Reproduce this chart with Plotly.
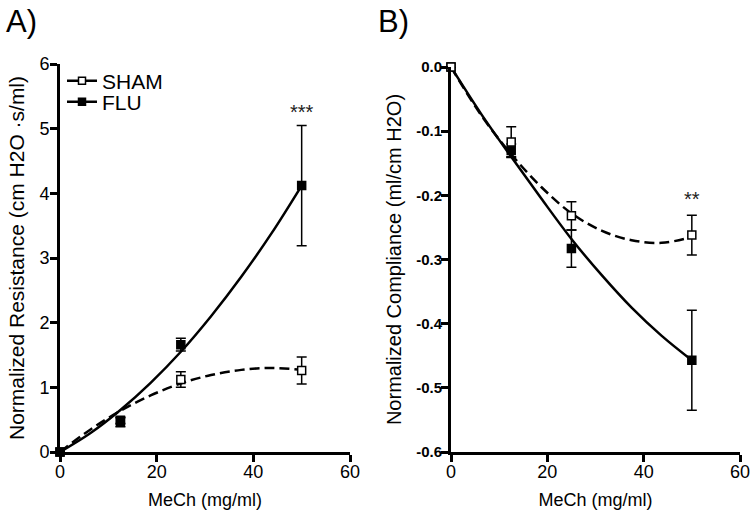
import plotly.graph_objects as go

FONT = "Arial, 'Liberation Sans', sans-serif"

# ---- data ----
dose = [0, 12.5, 25, 50]

# Panel A: normalized resistance
resA_sham = [0, 0.49, 1.12, 1.26]
resA_sham_err = [0, 0.05, 0.12, 0.21]
resA_flu = [0, 0.46, 1.66, 4.12]
resA_flu_err = [0, 0.07, 0.10, 0.93]

# Panel B: normalized compliance
compB_sham = [0, -0.117, -0.232, -0.262]
compB_sham_err = [0, 0.024, 0.022, 0.031]
compB_flu = [0, -0.130, -0.283, -0.457]
compB_flu_err = [0, 0.010, 0.029, 0.078]

# fitted curves
fit_x = [0, 6.25, 12.5, 18.75, 25, 31.25, 37.5, 43.75, 50]
fitA_flu = [0, 0.29, 0.65, 1.07, 1.55, 2.10, 2.71, 3.38, 4.12]
fitA_sham = [0, 0.345, 0.636, 0.875, 1.06, 1.19, 1.27, 1.30, 1.27]
fitB_flu = [0, -0.073, -0.140, -0.205, -0.268, -0.324, -0.375, -0.419, -0.457]
fitB_sham = [0, -0.075, -0.136, -0.187, -0.228, -0.255, -0.270, -0.274, -0.265]

# axes ticks
x_ticks = [0, 20, 40, 60]
x_ticktext = ["0", "20", "40", "60"]
yA_ticks = [0, 1, 2, 3, 4, 5, 6]
yA_ticktext = ["0", "1", "2", "3", "4", "5", "6"]
yB_ticks = [0, -0.1, -0.2, -0.3, -0.4, -0.5, -0.6]
yB_ticktext = ["0.0", "-0.1", "-0.2", "-0.3", "-0.4", "-0.5", "-0.6"]

series_names = ["SHAM", "FLU"]

fig = go.Figure()

def curves(xa, ya, flu_fit, sham_fit):
    fig.add_trace(go.Scatter(x=fit_x, y=sham_fit, mode="lines", line=dict(color="black", width=2.5, dash="10px,5px"),
                             line_shape="spline", showlegend=False, xaxis=xa, yaxis=ya, hoverinfo="skip", cliponaxis=False))
    fig.add_trace(go.Scatter(x=fit_x, y=flu_fit, mode="lines", line=dict(color="black", width=2.5),
                             line_shape="spline", showlegend=False, xaxis=xa, yaxis=ya, hoverinfo="skip", cliponaxis=False))

def points(xa, ya, vals, errs, filled, cap):
    fig.add_trace(go.Scatter(
        x=dose, y=vals, mode="markers", xaxis=xa, yaxis=ya, showlegend=False, cliponaxis=False,
        marker=dict(symbol="square", size=8, color="black" if filled else "white",
                    line=dict(color="black", width=1.5)),
        error_y=dict(type="data", array=errs, visible=True, color="black", thickness=1.5, width=cap)))

curves("x", "y", fitA_flu, fitA_sham)
points("x", "y", resA_sham, resA_sham_err, False, 5)
points("x", "y", resA_flu, resA_flu_err, True, 5)

curves("x2", "y2", fitB_flu, fitB_sham)
points("x2", "y2", compB_flu, compB_flu_err, True, 5)
points("x2", "y2", compB_sham, compB_sham_err, False, 5)

# legend entries (one legend box each, to match the tight spacing)
fig.add_trace(go.Scatter(x=[None], y=[None], mode="lines+markers", name=series_names[0], legend="legend",
                         line=dict(color="black", width=2.5),
                         marker=dict(symbol="square", size=7, color="white", line=dict(color="black", width=1.5))))
fig.add_trace(go.Scatter(x=[None], y=[None], mode="lines+markers", name=series_names[1], legend="legend2",
                         line=dict(color="black", width=2.5),
                         marker=dict(symbol="square", size=7, color="black", line=dict(color="black", width=1.5))))

axis_common = dict(showline=True, linecolor="black", linewidth=3, ticks="outside", ticklen=7, tickwidth=2.5,
                   tickcolor="black", showgrid=False, zeroline=False, automargin=False, mirror=False)

leg_common = dict(xanchor="left", yanchor="middle", bgcolor="rgba(0,0,0,0)",
                  font=dict(size=21, family=FONT), itemwidth=30)

fig.update_layout(
    width=754, height=510,
    margin=dict(l=0, r=0, t=0, b=0),
    paper_bgcolor="white", plot_bgcolor="white",
    font=dict(family=FONT, color="black"),
    showlegend=True,
    legend=dict(x=62 / 754, y=1 - 81 / 510, **leg_common),
    legend2=dict(x=62 / 754, y=1 - 102 / 510, **leg_common),
    xaxis=dict(domain=[60 / 754, 350 / 754], range=[0, 60], tickvals=x_ticks, ticktext=x_ticktext,
               tickfont=dict(size=18), ticklabelstandoff=-6,
               title=dict(text="MeCh (mg/ml)", font=dict(size=18), standoff=14),
               anchor="y", **axis_common),
    yaxis=dict(domain=[(510 - 452) / 510, (510 - 64) / 510], range=[0, 6], tickvals=yA_ticks, ticktext=yA_ticktext,
               tickfont=dict(size=18), ticklabelstandoff=-3,
               title=dict(text="Normalized Resistance (cm H2O ·s/ml)", font=dict(size=21), standoff=10),
               anchor="x", **axis_common),
    xaxis2=dict(domain=[451 / 754, 740 / 754], range=[0, 60], tickvals=x_ticks, ticktext=x_ticktext,
                tickfont=dict(size=18), ticklabelstandoff=-6,
                title=dict(text="MeCh (mg/ml)", font=dict(size=18), standoff=14),
                anchor="y2", **axis_common),
    yaxis2=dict(domain=[(510 - 452) / 510, (510 - 67) / 510], range=[-0.6, 0], tickvals=yB_ticks, ticktext=yB_ticktext,
                tickfont=dict(size=15, weight="bold"), ticklabelstandoff=-4,
                title=dict(text="Normalized Compliance (ml/cm H2O)", font=dict(size=20), standoff=10),
                anchor="x2", **axis_common),
    annotations=[
        dict(text="A)", x=4 / 754, y=1 - 2 / 510, xref="paper", yref="paper", xanchor="left", yanchor="top",
             showarrow=False, font=dict(size=31, family=FONT)),
        dict(text="B)", x=376 / 754, y=1 - 2 / 510, xref="paper", yref="paper", xanchor="left", yanchor="top",
             showarrow=False, font=dict(size=31, family=FONT)),
        dict(text="***", x=50, y=5.26, xref="x", yref="y", showarrow=False, font=dict(size=20, color="#222")),
        dict(text="**", x=50, y=-0.205, xref="x2", yref="y2", showarrow=False, font=dict(size=20, color="#222")),
    ],
)

fig.write_html("out.html", config={"displayModeBar": False},
               post_script="document.body.style.margin='0';document.body.style.overflow='hidden';")
